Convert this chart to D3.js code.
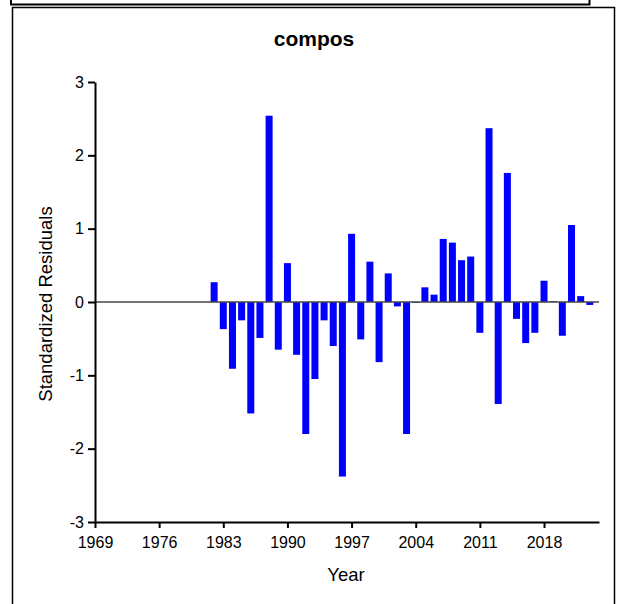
<!DOCTYPE html>
<html>
<head>
<meta charset="utf-8">
<script src="https://cdn.jsdelivr.net/npm/d3@7"></script>
<style>
  html, body { margin: 0; padding: 0; background: #fff; }
  svg { display: block; font-family: "Liberation Sans", Arial, sans-serif; }
</style>
</head>
<body>
<svg width="617" height="604"></svg>
<script>
// data
const years = [1982, 1983, 1984, 1985, 1986, 1987, 1988, 1989, 1990, 1991,
  1992, 1993, 1994, 1995, 1996, 1997, 1998, 1999, 2000, 2001, 2002, 2003,
  2004, 2005, 2006, 2007, 2008, 2009, 2010, 2011, 2012, 2013, 2014, 2015,
  2016, 2017, 2018, 2019, 2020, 2021, 2022, 2023];
const residuals = [0.27, -0.37, -0.91, -0.25, -1.52, -0.49, 2.54, -0.65, 0.53, -0.72,
  -1.80, -1.05, -0.25, -0.60, -2.38, 0.93, -0.51, 0.55, -0.82, 0.39, -0.06, -1.80,
  -0.01, 0.20, 0.10, 0.86, 0.81, 0.57, 0.62, -0.42, 2.37, -1.39, 1.76, -0.23,
  -0.56, -0.42, 0.29, 0.01, -0.46, 1.05, 0.08, -0.04];
const xTicks = [1969, 1976, 1983, 1990, 1997, 2004, 2011, 2018];
const yTicks = [-3, -2, -1, 0, 1, 2, 3];

const svg = d3.select("svg");

// panel frames
svg.append("path")
  .attr("d", "M11,0V4.5H589.5V0")
  .attr("fill", "none")
  .attr("stroke", "#000")
  .attr("stroke-width", 2);
svg.append("rect")
  .attr("x", 12.5).attr("y", 7.5)
  .attr("width", 602).attr("height", 700)
  .attr("fill", "none")
  .attr("stroke", "#000")
  .attr("stroke-width", 1.5);

const x = d3.scaleLinear().domain([1969, 2024]).range([95, 599]);
const y = d3.scaleLinear().domain([-3, 3]).range([522, 82]);

// bars
svg.append("g")
  .selectAll("rect")
  .data(years)
  .enter()
  .append("rect")
  .attr("x", d => x(d) - 3.5)
  .attr("width", 7)
  .attr("y", (d, i) => y(Math.max(0, residuals[i])))
  .attr("height", (d, i) => Math.abs(y(residuals[i]) - y(0)))
  .attr("fill", "#0000ff");

// zero line
svg.append("line")
  .attr("x1", x(1969)).attr("x2", x(2024))
  .attr("y1", y(0)).attr("y2", y(0))
  .attr("stroke", "#444")
  .attr("stroke-width", 1.5);

// axes (plain hyphen for negatives, like the original)
const xAxis = svg.append("g")
  .attr("transform", `translate(0,${y(-3)})`)
  .call(d3.axisBottom(x).tickValues(xTicks).tickFormat(d => String(d))
    .tickSize(6).tickSizeOuter(0).tickPadding(9));
const yAxis = svg.append("g")
  .attr("transform", `translate(${x(1969)},0)`)
  .call(d3.axisLeft(y).tickValues(yTicks).tickFormat(d => String(d))
    .tickSize(7).tickSizeOuter(0).tickPadding(4));

[xAxis, yAxis].forEach(g => {
  g.select(".domain").attr("stroke", "#000").attr("stroke-width", 2);
  g.selectAll(".tick line").attr("stroke", "#000").attr("stroke-width", 2);
  g.selectAll(".tick text")
    .attr("fill", "#000")
    .style("font-size", "16px")
    .style("font-family", "'Liberation Sans', Arial, sans-serif");
});

// titles
svg.append("text")
  .attr("x", 314).attr("y", 46)
  .attr("text-anchor", "middle")
  .style("font-size", "21px")
  .style("font-weight", "bold")
  .text("compos");

svg.append("text")
  .attr("x", 346).attr("y", 581)
  .attr("text-anchor", "middle")
  .style("font-size", "18.5px")
  .text("Year");

svg.append("text")
  .attr("transform", "translate(52,304) rotate(-90)")
  .attr("text-anchor", "middle")
  .style("font-size", "18.5px")
  .text("Standardized Residuals");
</script>
</body>
</html>
